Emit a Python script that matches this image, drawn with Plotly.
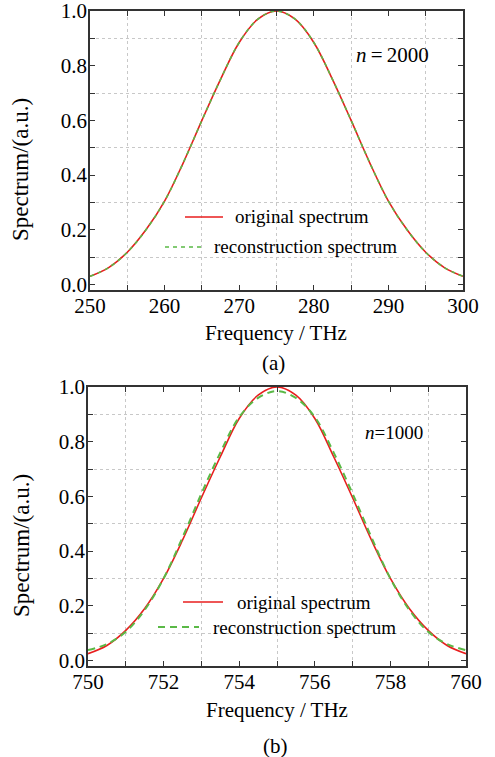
import plotly.graph_objects as go

W, H = 495, 757
FONT = "Liberation Serif"

# ---------------- data ----------------
freq_a = [250, 252.5, 255, 257.5, 260, 262.5, 265, 267.5, 270, 272.5, 275,
          277.5, 280, 282.5, 285, 287.5, 290, 292.5, 295, 297.5, 300]
orig_a = [0.030, 0.062, 0.118, 0.200, 0.305, 0.445, 0.600, 0.750, 0.885, 0.970, 1.000,
          0.970, 0.885, 0.750, 0.600, 0.445, 0.305, 0.200, 0.118, 0.062, 0.030]
recon_a = [0.030, 0.062, 0.118, 0.200, 0.305, 0.445, 0.600, 0.750, 0.885, 0.970, 1.000,
           0.970, 0.885, 0.750, 0.600, 0.445, 0.305, 0.200, 0.118, 0.062, 0.030]

freq_b = [750, 750.5, 751, 751.5, 752, 752.5, 753, 753.5, 754, 754.5, 755,
          755.5, 756, 756.5, 757, 757.5, 758, 758.5, 759, 759.5, 760]
orig_b = [0.025, 0.055, 0.110, 0.190, 0.300, 0.440, 0.595, 0.745, 0.885, 0.970, 1.000,
          0.970, 0.885, 0.745, 0.595, 0.440, 0.300, 0.190, 0.110, 0.055, 0.025]
recon_b = [0.038, 0.060, 0.105, 0.185, 0.300, 0.450, 0.610, 0.760, 0.890, 0.960, 0.985,
           0.960, 0.890, 0.760, 0.610, 0.450, 0.300, 0.185, 0.105, 0.060, 0.038]

xticks_a = [250, 260, 270, 280, 290, 300]
xminor_a = [255, 265, 275, 285, 295]
xticks_b = [750, 752, 754, 756, 758, 760]
xminor_b = [751, 753, 755, 757, 759]
yticks = [0.0, 0.2, 0.4, 0.6, 0.8, 1.0]
yminor = [0.1, 0.3, 0.5, 0.7, 0.9]

RED = "rgb(232,30,30)"
GREEN = "rgb(90,185,70)"

def px(x):
    return x / W

def py(y):
    return 1 - y / H

fig = go.Figure()
fig.add_trace(go.Scatter(x=freq_a, y=orig_a, mode="lines", line=dict(color=RED, width=1.6, shape="spline"),
                         xaxis="x", yaxis="y", showlegend=False))
fig.add_trace(go.Scatter(x=freq_a, y=recon_a, mode="lines",
                         line=dict(color=GREEN, width=1.6, shape="spline", dash="4px,4px"),
                         xaxis="x", yaxis="y", showlegend=False))
fig.add_trace(go.Scatter(x=freq_b, y=orig_b, mode="lines", line=dict(color=RED, width=1.6, shape="spline"),
                         xaxis="x2", yaxis="y2", showlegend=False))
fig.add_trace(go.Scatter(x=freq_b, y=recon_b, mode="lines",
                         line=dict(color=GREEN, width=2, shape="spline", dash="7px,5px"),
                         xaxis="x2", yaxis="y2", showlegend=False))

axis_common = dict(
    showline=True, linecolor="#333", linewidth=1.5, mirror="allticks",
    ticks="inside", ticklen=5, tickwidth=1.2, tickcolor="#333",
    showgrid=False, zeroline=False, automargin=False, ticklabeloverflow="allow",
    tickfont=dict(family=FONT, size=21, color="black"),
)

def minor(vals):
    return dict(tickmode="array", tickvals=vals, ticks="inside", ticklen=5, tickwidth=1.2, tickcolor="#333",
                showgrid=True, gridcolor="#c8c8c8", griddash="dot", gridwidth=1)

title_font = dict(family=FONT, size=21, color="black")

fig.update_layout(
    width=W, height=H, margin=dict(l=0, r=0, t=0, b=0),
    paper_bgcolor="white", plot_bgcolor="white",
    font=dict(family=FONT, color="black"),
    xaxis=dict(**axis_common, domain=[px(90), px(463)], range=[250, 300], tickvals=xticks_a,
               minor=minor(xminor_a), anchor="y", ticklabelstandoff=-4),
    yaxis=dict(**axis_common, domain=[py(290), py(11)], range=[-0.02, 1.0], tickvals=yticks,
               tickformat=".1f", minor=minor(yminor), anchor="x", ticklabelstandoff=-3),
    xaxis2=dict(**axis_common, domain=[px(88), px(466)], range=[750, 760], tickvals=xticks_b,
                minor=minor(xminor_b), anchor="y2", ticklabelstandoff=-4),
    yaxis2=dict(**axis_common, domain=[py(666), py(387)], range=[-0.02, 1.0], tickvals=yticks,
                tickformat=".1f", minor=minor(yminor), anchor="x2", ticklabelstandoff=-3),
)

LEG = dict(family=FONT, size=19, color="black")
YT = dict(family=FONT, size=23, color="black")
ann = [
    dict(x=px(276), y=py(333), text="Frequency / THz", font=title_font, xanchor="center", yanchor="middle"),
    dict(x=px(277), y=py(710), text="Frequency / THz", font=title_font, xanchor="center", yanchor="middle"),
    dict(x=px(21), y=py(170), text="Spectrum/(a.u.)", font=YT, textangle=-90, xanchor="center", yanchor="middle"),
    dict(x=px(21), y=py(546), text="Spectrum/(a.u.)", font=YT, textangle=-90, xanchor="center", yanchor="middle"),
    dict(x=px(354), y=py(55), text="<i>n</i>\u2009=\u20092000", font=dict(family=FONT, size=21, color="black"),
         xanchor="left", yanchor="middle"),
    dict(x=px(363), y=py(432), text="<i>n</i>=1000", font=dict(family=FONT, size=19, color="black"),
         xanchor="left", yanchor="middle"),
    dict(x=px(273), y=py(363), text="(a)", font=title_font, xanchor="center", yanchor="middle"),
    dict(x=px(275), y=py(746), text="(b)", font=title_font, xanchor="center", yanchor="middle"),
    dict(x=px(233), y=py(217), text="original spectrum", font=LEG, xanchor="left", yanchor="middle"),
    dict(x=px(212), y=py(247), text="reconstruction spectrum", font=LEG, xanchor="left", yanchor="middle"),
    dict(x=px(235), y=py(602), text="original spectrum", font=LEG, xanchor="left", yanchor="middle"),
    dict(x=px(211), y=py(627), text="reconstruction spectrum", font=LEG, xanchor="left", yanchor="middle"),
]
for a in ann:
    a.update(xref="paper", yref="paper", showarrow=False)
fig.update_layout(annotations=ann)

shapes = [
    dict(x0=px(185), x1=px(223), y0=py(217), y1=py(217), line=dict(color=RED, width=1.6)),
    dict(x0=px(165), x1=px(202), y0=py(247), y1=py(247), line=dict(color=GREEN, width=1.6, dash="4px,4px")),
    dict(x0=px(183), x1=px(223), y0=py(602), y1=py(602), line=dict(color=RED, width=1.6)),
    dict(x0=px(158), x1=px(199), y0=py(627), y1=py(627), line=dict(color=GREEN, width=2, dash="7px,5px")),
]
for s in shapes:
    s.update(type="line", xref="paper", yref="paper")
fig.update_layout(shapes=shapes)

fig.write_html("out.html")
